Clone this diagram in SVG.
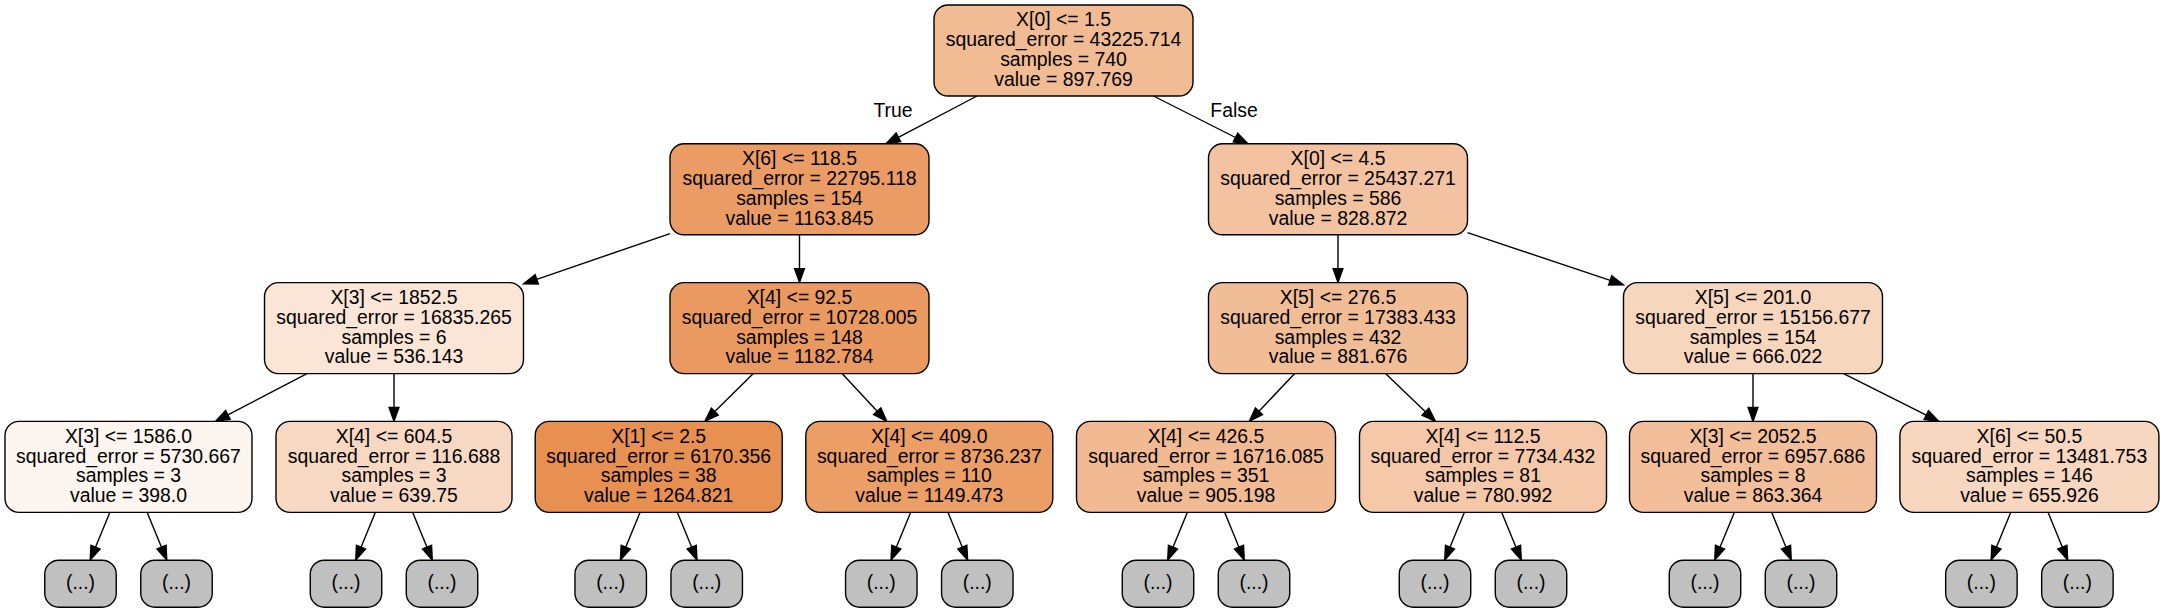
<svg xmlns="http://www.w3.org/2000/svg" width="2163" height="613" viewBox="0 0 2163 613">
<defs>
<style>
.n rect{stroke:#000;stroke-width:1.4}
.n text,.lbl{font-family:"Liberation Sans",Arial,Helvetica,sans-serif;font-size:19.4px;fill:#000;text-anchor:middle}
.leaf rect{fill:#c0c0c0;stroke:#000;stroke-width:1.4}
.leaf text{font-family:"Liberation Sans",Arial,Helvetica,sans-serif;font-size:19.4px;fill:#000;text-anchor:middle}
#edges path{fill:none;stroke:#000;stroke-width:1.4;marker-end:url(#arr)}
</style>
<marker id="arr" markerUnits="userSpaceOnUse" refX="0" refY="0" markerWidth="20" markerHeight="14" viewBox="-1 -7 17 14" orient="auto" overflow="visible">
<path d="M0,-4.9 L13.9,0 L0,4.9 Z" fill="#000" stroke="#000" stroke-width="1.4"/>
</marker>
</defs>
<rect width="2163" height="613" fill="#fff"/>
<g id="edges">
<path d="M977,96 L898.4,137.3"/>
<path d="M1153.5,96 L1235.5,137.5"/>
<path d="M670,233.6 L536.75,279.3"/>
<path d="M799.5,234.8 L799.5,268.6"/>
<path d="M1338,234.8 L1338,268.6"/>
<path d="M1467.5,232.6 L1610.2,280.4"/>
<path d="M307,373.6 L227.9,414.9"/>
<path d="M394,373.6 L394,407.4"/>
<path d="M753.35,373.6 L714.8,411.57"/>
<path d="M842.05,373.6 L877.2,411.17"/>
<path d="M1294.7,373.6 L1258.95,411.25"/>
<path d="M1385.5,373.6 L1425.4,411.7"/>
<path d="M1753,373.6 L1753,407.4"/>
<path d="M1843.6,373.6 L1926.3,415.1"/>
<path d="M109.8,512.4 L95.5,547.25"/><path d="M147.2,512.4 L161.5,547.25"/>
<path d="M375.3,512.4 L361,547.25"/><path d="M412.7,512.4 L427,547.25"/>
<path d="M640,512.4 L625.7,547.25"/><path d="M677.4,512.4 L691.7,547.25"/>
<path d="M910.6,512.4 L896.3,547.25"/><path d="M948,512.4 L962.3,547.25"/>
<path d="M1187.3,512.4 L1173,547.25"/><path d="M1224.7,512.4 L1239,547.25"/>
<path d="M1464.3,512.4 L1450,547.25"/><path d="M1501.7,512.4 L1516,547.25"/>
<path d="M1734.3,512.4 L1720,547.25"/><path d="M1771.7,512.4 L1786,547.25"/>
<path d="M2010.7,512.4 L1996.4,547.25"/><path d="M2048.1,512.4 L2062.4,547.25"/>
<text class="lbl" x="893" y="117">True</text>
<text class="lbl" x="1234" y="117">False</text>
</g>
<g id="node0" class="n"><rect x="934" y="5" width="259" height="91" rx="14" fill="#f1bb94"/>
<text x="1063.5" y="26.3">X[0] &lt;= 1.5<tspan x="1063.5" dy="19.8">squared_error = 43225.714</tspan><tspan x="1063.5" dy="19.8">samples = 740</tspan><tspan x="1063.5" dy="19.8">value = 897.769</tspan></text></g>
<g id="node1" class="n"><rect x="670" y="143.8" width="259" height="91" rx="14" fill="#eb9c64"/>
<text x="799.5" y="165.1">X[6] &lt;= 118.5<tspan x="799.5" dy="19.8">squared_error = 22795.118</tspan><tspan x="799.5" dy="19.8">samples = 154</tspan><tspan x="799.5" dy="19.8">value = 1163.845</tspan></text></g>
<g id="node2" class="n"><rect x="1208.5" y="143.8" width="259" height="91" rx="14" fill="#f3c3a1"/>
<text x="1338" y="165.1">X[0] &lt;= 4.5<tspan x="1338" dy="19.8">squared_error = 25437.271</tspan><tspan x="1338" dy="19.8">samples = 586</tspan><tspan x="1338" dy="19.8">value = 828.872</tspan></text></g>
<g id="node3" class="n"><rect x="264.5" y="282.6" width="259" height="91" rx="14" fill="#fae5d6"/>
<text x="394" y="303.9">X[3] &lt;= 1852.5<tspan x="394" dy="19.8">squared_error = 16835.265</tspan><tspan x="394" dy="19.8">samples = 6</tspan><tspan x="394" dy="19.8">value = 536.143</tspan></text></g>
<g id="node4" class="n"><rect x="670" y="282.6" width="259" height="91" rx="14" fill="#ea9a60"/>
<text x="799.5" y="303.9">X[4] &lt;= 92.5<tspan x="799.5" dy="19.8">squared_error = 10728.005</tspan><tspan x="799.5" dy="19.8">samples = 148</tspan><tspan x="799.5" dy="19.8">value = 1182.784</tspan></text></g>
<g id="node5" class="n"><rect x="1208.5" y="282.6" width="259" height="91" rx="14" fill="#f1bd97"/>
<text x="1338" y="303.9">X[5] &lt;= 276.5<tspan x="1338" dy="19.8">squared_error = 17383.433</tspan><tspan x="1338" dy="19.8">samples = 432</tspan><tspan x="1338" dy="19.8">value = 881.676</tspan></text></g>
<g id="node6" class="n"><rect x="1623.5" y="282.6" width="259" height="91" rx="14" fill="#f7d6be"/>
<text x="1753" y="303.9">X[5] &lt;= 201.0<tspan x="1753" dy="19.8">squared_error = 15156.677</tspan><tspan x="1753" dy="19.8">samples = 154</tspan><tspan x="1753" dy="19.8">value = 666.022</tspan></text></g>
<g id="node7" class="n"><rect x="5" y="421.4" width="247" height="91" rx="14" fill="#fdf5ef"/>
<text x="128.5" y="442.7">X[3] &lt;= 1586.0<tspan x="128.5" dy="19.8">squared_error = 5730.667</tspan><tspan x="128.5" dy="19.8">samples = 3</tspan><tspan x="128.5" dy="19.8">value = 398.0</tspan></text></g>
<g id="node8" class="n"><rect x="276" y="421.4" width="236" height="91" rx="14" fill="#f7d9c3"/>
<text x="394" y="442.7">X[4] &lt;= 604.5<tspan x="394" dy="19.8">squared_error = 116.688</tspan><tspan x="394" dy="19.8">samples = 3</tspan><tspan x="394" dy="19.8">value = 639.75</tspan></text></g>
<g id="node9" class="n"><rect x="535.2" y="421.4" width="247" height="91" rx="14" fill="#e89051"/>
<text x="658.7" y="442.7">X[1] &lt;= 2.5<tspan x="658.7" dy="19.8">squared_error = 6170.356</tspan><tspan x="658.7" dy="19.8">samples = 38</tspan><tspan x="658.7" dy="19.8">value = 1264.821</tspan></text></g>
<g id="node10" class="n"><rect x="805.8" y="421.4" width="247" height="91" rx="14" fill="#eb9e66"/>
<text x="929.3" y="442.7">X[4] &lt;= 409.0<tspan x="929.3" dy="19.8">squared_error = 8736.237</tspan><tspan x="929.3" dy="19.8">samples = 110</tspan><tspan x="929.3" dy="19.8">value = 1149.473</tspan></text></g>
<g id="node11" class="n"><rect x="1076.5" y="421.4" width="259" height="91" rx="14" fill="#f1ba93"/>
<text x="1206" y="442.7">X[4] &lt;= 426.5<tspan x="1206" dy="19.8">squared_error = 16716.085</tspan><tspan x="1206" dy="19.8">samples = 351</tspan><tspan x="1206" dy="19.8">value = 905.198</tspan></text></g>
<g id="node12" class="n"><rect x="1359.5" y="421.4" width="247" height="91" rx="14" fill="#f4c8a9"/>
<text x="1483" y="442.7">X[4] &lt;= 112.5<tspan x="1483" dy="19.8">squared_error = 7734.432</tspan><tspan x="1483" dy="19.8">samples = 81</tspan><tspan x="1483" dy="19.8">value = 780.992</tspan></text></g>
<g id="node13" class="n"><rect x="1629.5" y="421.4" width="247" height="91" rx="14" fill="#f2bf9a"/>
<text x="1753" y="442.7">X[3] &lt;= 2052.5<tspan x="1753" dy="19.8">squared_error = 6957.686</tspan><tspan x="1753" dy="19.8">samples = 8</tspan><tspan x="1753" dy="19.8">value = 863.364</tspan></text></g>
<g id="node14" class="n"><rect x="1899.9" y="421.4" width="259" height="91" rx="14" fill="#f7d7c0"/>
<text x="2029.4" y="442.7">X[6] &lt;= 50.5<tspan x="2029.4" dy="19.8">squared_error = 13481.753</tspan><tspan x="2029.4" dy="19.8">samples = 146</tspan><tspan x="2029.4" dy="19.8">value = 655.926</tspan></text></g>
<g id="leaf1" class="leaf"><rect x="44.75" y="560.2" width="71.5" height="47" rx="14"/><text x="80.5" y="588.6">(...)</text></g>
<g id="leaf2" class="leaf"><rect x="140.75" y="560.2" width="71.5" height="47" rx="14"/><text x="176.5" y="588.6">(...)</text></g>
<g id="leaf3" class="leaf"><rect x="310.25" y="560.2" width="71.5" height="47" rx="14"/><text x="346" y="588.6">(...)</text></g>
<g id="leaf4" class="leaf"><rect x="406.25" y="560.2" width="71.5" height="47" rx="14"/><text x="442" y="588.6">(...)</text></g>
<g id="leaf5" class="leaf"><rect x="574.95" y="560.2" width="71.5" height="47" rx="14"/><text x="610.7" y="588.6">(...)</text></g>
<g id="leaf6" class="leaf"><rect x="670.95" y="560.2" width="71.5" height="47" rx="14"/><text x="706.7" y="588.6">(...)</text></g>
<g id="leaf7" class="leaf"><rect x="845.55" y="560.2" width="71.5" height="47" rx="14"/><text x="881.3" y="588.6">(...)</text></g>
<g id="leaf8" class="leaf"><rect x="941.55" y="560.2" width="71.5" height="47" rx="14"/><text x="977.3" y="588.6">(...)</text></g>
<g id="leaf9" class="leaf"><rect x="1122.25" y="560.2" width="71.5" height="47" rx="14"/><text x="1158" y="588.6">(...)</text></g>
<g id="leaf10" class="leaf"><rect x="1218.25" y="560.2" width="71.5" height="47" rx="14"/><text x="1254" y="588.6">(...)</text></g>
<g id="leaf11" class="leaf"><rect x="1399.25" y="560.2" width="71.5" height="47" rx="14"/><text x="1435" y="588.6">(...)</text></g>
<g id="leaf12" class="leaf"><rect x="1495.25" y="560.2" width="71.5" height="47" rx="14"/><text x="1531" y="588.6">(...)</text></g>
<g id="leaf13" class="leaf"><rect x="1669.25" y="560.2" width="71.5" height="47" rx="14"/><text x="1705" y="588.6">(...)</text></g>
<g id="leaf14" class="leaf"><rect x="1765.25" y="560.2" width="71.5" height="47" rx="14"/><text x="1801" y="588.6">(...)</text></g>
<g id="leaf15" class="leaf"><rect x="1945.65" y="560.2" width="71.5" height="47" rx="14"/><text x="1981.4" y="588.6">(...)</text></g>
<g id="leaf16" class="leaf"><rect x="2041.65" y="560.2" width="71.5" height="47" rx="14"/><text x="2077.4" y="588.6">(...)</text></g>
</svg>
